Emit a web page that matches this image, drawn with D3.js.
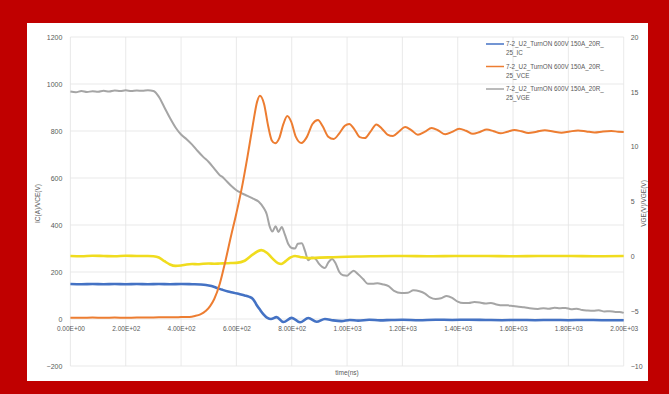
<!DOCTYPE html>
<html>
<head>
<meta charset="utf-8">
<script src="https://cdn.jsdelivr.net/npm/d3@7"></script>
<style>
  html, body { margin: 0; padding: 0; background: #c00000; }
  svg { display: block; }
  text { font-family: "Liberation Sans", Arial, sans-serif; fill: #595959; }
</style>
</head>
<body>
<svg id="chart" width="669" height="394"></svg>
<script>
// Turn-on waveform, time in ns
const leftTicks = [-200, 0, 200, 400, 600, 800, 1000, 1200];
const rightTicks = [-10, -5, 0, 5, 10, 15, 20];
const xTicks = [0, 200, 400, 600, 800, 1000, 1200, 1400, 1600, 1800, 2000];
const xTickLabels = ["0.00E+00", "2.00E+02", "4.00E+02", "6.00E+02", "8.00E+02", "1.00E+03",
                     "1.20E+03", "1.40E+03", "1.60E+03", "1.80E+03", "2.00E+03"];
const legendLine1 = ["7-2_U2_TurnON 600V 150A_20R_",
                     "7-2_U2_TurnON 600V 150A_20R_",
                     "7-2_U2_TurnON 600V 150A_20R_"];
const legendLine2 = ["25_IC", "25_VCE", "25_VGE"];

// Series: [time, value] pairs on the left axis scale
const grayTrace = [[0,968],[20,965],[40,970],[60,966],[80,969],[100,967],[120,971],[140,968],[160,972],[180,970],[200,973],[220,970],[240,972],[260,971],[280,973],[300,970],[320,945],[340,900],[360,855],[380,815],[400,785],[420,765],[440,742],[460,715],[480,690],[500,668],[520,640],[540,612],[550,604],[560,592],[580,568],[600,548],[620,535],[640,524],[660,512],[680,500],[700,470],[710,445],[720,395],[730,372],[742,395],[752,370],[764,392],[775,360],[788,318],[800,302],[812,300],[822,320],[836,322],[848,290],[860,250],[872,262],[884,258],[898,236],[910,222],[920,217],[932,240],[946,255],[958,238],[972,200],[986,186],[1000,184],[1012,196],[1024,205],[1040,190],[1058,170],[1075,150],[1092,150],[1110,152],[1128,148],[1150,140],[1170,120],[1196,111],[1220,112],[1240,122],[1262,118],[1282,108],[1300,92],[1320,85],[1340,88],[1360,98],[1380,90],[1400,74],[1420,68],[1440,68],[1460,72],[1480,70],[1500,66],[1520,68],[1540,62],[1560,58],[1580,58],[1600,55],[1620,52],[1640,50],[1660,46],[1690,43],[1710,46],[1730,44],[1750,48],[1770,46],[1790,47],[1810,42],[1830,44],[1850,38],[1870,36],[1890,35],[1910,37],[1930,32],[1950,33],[1970,30],[1985,30],[2000,26]];

const orangeTrace = [[0,5],[40,5],[80,6],[120,5],[160,6],[200,5],[240,6],[280,6],[320,7],[360,7],[400,8],[430,9],[450,13],[470,20],[490,35],[505,55],[520,85],[540,150],[560,245],[580,350],[600,450],[620,560],[640,690],[660,830],[675,925],[685,950],[700,915],[715,820],[728,760],[740,748],[755,770],[770,830],[784,864],[798,840],[815,775],[835,749],[855,775],[875,830],[895,847],[912,820],[932,776],[952,766],[972,790],[992,822],[1008,830],[1026,808],[1046,774],[1064,770],[1084,796],[1106,828],[1126,810],[1146,785],[1166,779],[1188,798],[1210,817],[1232,804],[1256,784],[1280,796],[1306,813],[1330,802],[1355,786],[1380,796],[1405,810],[1430,801],[1455,788],[1480,796],[1505,806],[1530,799],[1555,790],[1580,797],[1605,804],[1630,799],[1655,792],[1685,797],[1715,803],[1745,798],[1775,793],[1805,798],[1835,802],[1865,798],[1895,794],[1925,798],[1955,800],[1980,797],[2000,796]];

const yellowTrace = [[0,268],[40,267],[80,269],[120,268],[160,267],[200,269],[240,268],[280,268],[300,267],[320,262],[340,246],[360,232],[380,226],[400,228],[420,232],[440,234],[460,233],[480,235],[500,236],[520,235],[540,236],[560,237],[580,238],[600,239],[630,248],[660,275],[690,293],[710,282],[730,258],[750,238],[762,234],[778,246],[796,262],[812,268],[830,264],[860,259],[900,261],[950,263],[1000,265],[1050,266],[1100,267],[1200,268],[1300,267],[1400,268],[1500,268],[1600,267],[1700,268],[1800,268],[1900,267],[2000,268]];

const blueTrace = [[0,149],[40,148],[80,149],[120,148],[160,149],[200,148],[240,149],[280,148],[320,149],[360,148],[400,149],[440,148],[470,147],[490,145],[510,140],[530,132],[550,124],[570,117],[590,112],[610,106],[630,100],[645,95],[660,85],[672,62],[685,40],[698,20],[712,5],[725,0],[745,8],[770,-13],[800,5],[830,-14],[860,4],[890,-12],[920,0],[950,-6],[980,-9],[1010,-4],[1040,-7],[1080,-3],[1120,-6],[1160,-4],[1200,-3],[1260,-5],[1320,-3],[1380,-4],[1440,-3],[1500,-4],[1560,-5],[1620,-4],[1680,-5],[1740,-4],[1800,-5],[1860,-4],[1920,-5],[2000,-5]];

const svg = d3.select("#chart");

// white chart panel on the red frame
svg.append("rect").attr("x", 27).attr("y", 23).attr("width", 621).attr("height", 358).attr("fill", "#ffffff");

const plot = { left: 70.4, right: 623.7, top: 37, bottom: 366 };
const x = d3.scaleLinear().domain([0, 2000]).range([plot.left, plot.right]);
const yL = d3.scaleLinear().domain([-200, 1200]).range([plot.bottom, plot.top]);
const yR = d3.scaleLinear().domain([-10, 20]).range([plot.bottom, plot.top]);

// gridlines
svg.append("g").selectAll("line").data(leftTicks).join("line")
  .attr("x1", plot.left).attr("x2", plot.right)
  .attr("y1", d => yL(d)).attr("y2", d => yL(d))
  .attr("stroke", "#e3e3e3").attr("stroke-width", 0.8);
svg.append("g").selectAll("line").data(xTicks).join("line")
  .attr("x1", d => x(d)).attr("x2", d => x(d))
  .attr("y1", plot.top).attr("y2", plot.bottom)
  .attr("stroke", "#e3e3e3").attr("stroke-width", 0.8);

// left axis labels
const leftAxis = d3.axisLeft(yL).tickValues(leftTicks).tickSize(0).tickPadding(8).tickFormat(d3.format("d"));
const gL = svg.append("g").attr("transform", `translate(${plot.left},0)`).call(leftAxis);
gL.select(".domain").remove();
gL.selectAll("text").style("font-size", "7px").attr("fill", "#595959");

// right axis labels
const rightAxis = d3.axisRight(yR).tickValues(rightTicks).tickSize(0).tickPadding(7).tickFormat(d3.format("d"));
const gR = svg.append("g").attr("transform", `translate(${plot.right},0)`).call(rightAxis);
gR.select(".domain").remove();
gR.selectAll("text").style("font-size", "7px").attr("fill", "#595959");

// time axis labels sit below the zero line
const bottomAxis = d3.axisBottom(x).tickValues(xTicks).tickSize(0).tickPadding(7)
  .tickFormat((d, i) => xTickLabels[i]);
const gB = svg.append("g").attr("transform", `translate(0,${yL(0)})`).call(bottomAxis);
gB.select(".domain").remove();
gB.selectAll("text").style("font-size", "6.5px").attr("fill", "#595959");

// axis titles
svg.append("text").attr("x", x(1000)).attr("y", 375).attr("text-anchor", "middle")
  .style("font-size", "6.5px").text("time(ns)");
svg.append("text").attr("transform", `translate(40,${(plot.top + plot.bottom) / 2 + 2}) rotate(-90)`)
  .attr("text-anchor", "middle").style("font-size", "6.5px").text("IC(A)/VCE(V)");
svg.append("text").attr("transform", `translate(646,${(plot.top + plot.bottom) / 2 + 2}) rotate(-90)`)
  .attr("text-anchor", "middle").style("font-size", "6.5px").text("VGE(V)/VGE(V)");

// traces
const line = d3.line().x(d => x(d[0])).y(d => yL(d[1])).curve(d3.curveMonotoneX);
const traces = [
  { data: grayTrace, color: "#a5a5a5", width: 2 },
  { data: yellowTrace, color: "#f0dc1e", width: 2.6 },
  { data: blueTrace, color: "#4472c4", width: 2.6 },
  { data: orangeTrace, color: "#ed7d31", width: 2 }
];
svg.append("g").selectAll("path").data(traces).join("path")
  .attr("d", d => line(d.data))
  .attr("fill", "none")
  .attr("stroke", d => d.color)
  .attr("stroke-width", d => d.width)
  .attr("stroke-linejoin", "round");

// legend
const legendColors = ["#4472c4", "#ed7d31", "#a5a5a5"];
const lg = svg.append("g").selectAll("g").data(legendLine1).join("g")
  .attr("transform", (d, i) => `translate(486,${44 + i * 22.5})`);
lg.append("line").attr("x1", 0).attr("x2", 18).attr("y1", 0).attr("y2", 0)
  .attr("stroke", (d, i) => legendColors[i]).attr("stroke-width", 1.5);
lg.append("text").attr("x", 20).attr("y", 2).style("font-size", "6.3px").text(d => d);
lg.append("text").attr("x", 20).attr("y", 11).style("font-size", "6.3px").text((d, i) => legendLine2[i]);
</script>
</body>
</html>
